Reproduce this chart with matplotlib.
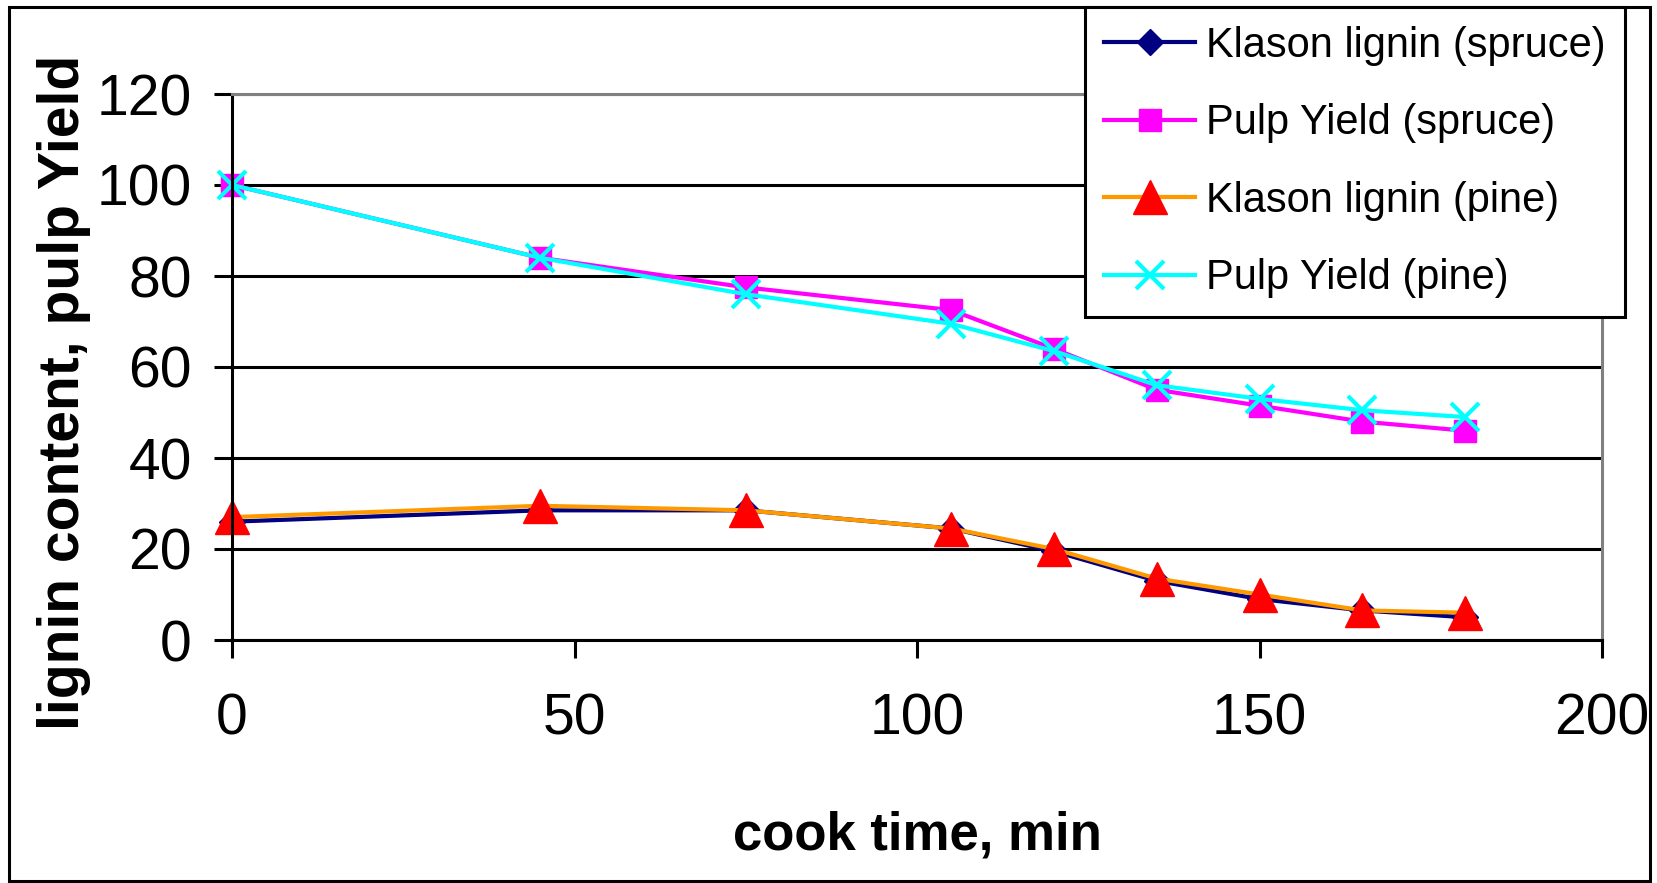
import matplotlib
matplotlib.use("Agg")
import matplotlib.pyplot as plt
from matplotlib.patches import Rectangle

# cook time (min) and measured values
cook_time = [0, 45, 75, 105, 120, 135, 150, 165, 180]
klason_spruce = [26, 28.5, 28.5, 24.5, 19.5, 13, 9, 6.5, 5]
pulp_spruce = [100, 84, 77.5, 72.5, 64, 55, 51.5, 48, 46]
klason_pine = [27, 29.5, 28.5, 24.5, 20, 13.5, 10, 6.5, 6]
pulp_pine = [100, 84, 76, 69.5, 63.5, 56, 53, 50.5, 49]

x_ticks = [0, 50, 100, 150, 200]
y_ticks = [0, 20, 40, 60, 80, 100, 120]

plt.rcParams["font.family"] = ["Liberation Sans", "DejaVu Sans"]

W, H = 1657, 883
fig = plt.figure(figsize=(W / 100, H / 100), dpi=100)

# plot area in pixels: x 232..1602, y 94..640
ax = fig.add_axes([232 / W, 1 - 640 / H, (1602 - 232) / W, (640 - 94) / H])

lw = 3
ax.plot(cook_time, klason_spruce, color="#000080", lw=lw, marker="D", ms=13,
        mfc="#000080", mec="#000080", label="Klason lignin (spruce)", clip_on=False)
ax.plot(cook_time, pulp_spruce, color="#FF00FF", lw=lw, marker="s", ms=16,
        mfc="#FF00FF", mec="#FF00FF", label="Pulp Yield (spruce)", clip_on=False)
ax.plot(cook_time, klason_pine, color="#FF9900", lw=lw, marker="^", ms=24,
        mfc="#FF0000", mec="#FF0000", label="Klason lignin (pine)", clip_on=False)
ax.plot(cook_time, pulp_pine, color="#00FFFF", lw=lw, marker="x", ms=20,
        mew=3, mec="#00FFFF", label="Pulp Yield (pine)", clip_on=False)

ax.set_xlim(0, 200)
ax.set_ylim(0, 120)
ax.set_xticks(x_ticks)
ax.set_yticks(y_ticks)
ax.grid(axis="y", color="black", lw=2.2)

for s in ["left", "bottom"]:
    ax.spines[s].set_color("black")
    ax.spines[s].set_linewidth(2.2)
for s in ["top", "right"]:
    ax.spines[s].set_color("#808080")
    ax.spines[s].set_linewidth(2.2)

ax.tick_params(axis="both", direction="out", length=13, width=2.2,
               labelsize=41, colors="black")
ax.tick_params(axis="x", pad=25)
ax.tick_params(axis="y", pad=16)

fig.text(64 / W, 1 - 392 / H, "lignin content, pulp Yield", rotation=90,
         ha="center", va="center", fontsize=41, fontweight="bold")
fig.text(917 / W, 1 - 850 / H, "cook time, min", ha="center", va="baseline",
         fontsize=38, fontweight="bold")

# outer frame of the chart
fig.patches.append(Rectangle((9 / W, 1 - 881 / H), (1650 - 9) / W, (881 - 7) / H,
                             transform=fig.transFigure, fill=False,
                             edgecolor="black", lw=2.2, zorder=0))

leg = fig.legend(loc="upper left", bbox_to_anchor=(1085 / W, 1 - 7 / H),
                 bbox_transform=fig.transFigure, borderaxespad=0,
                 fontsize=30, handlelength=2.2, handletextpad=0.26,
                 borderpad=0.45, labelspacing=0.9, fancybox=False,
                 framealpha=1, edgecolor="black")
leg.get_frame().set_linewidth(2.2)

plt.savefig("out.png", dpi=100)
